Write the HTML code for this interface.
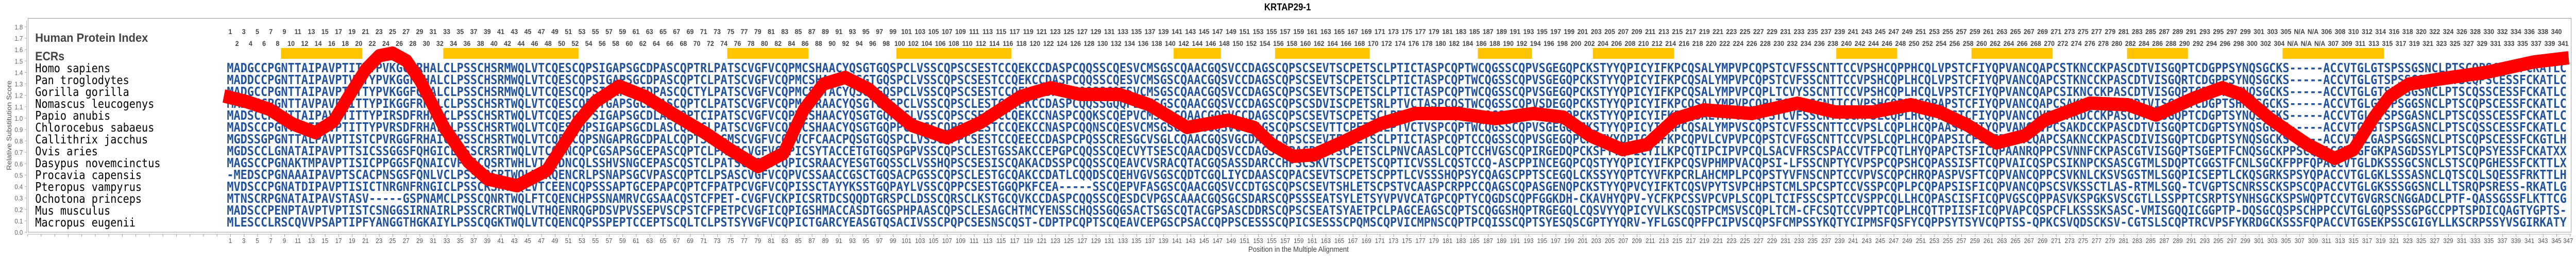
<!DOCTYPE html>
<html><head><meta charset="utf-8">
<style>
html,body{margin:0;padding:0;background:#fff;width:100%;height:500px;overflow:hidden;}
svg{display:block;width:100%;height:500px;}
.t{font-family:"Liberation Sans",sans-serif;font-weight:bold;font-size:14px;fill:#444;text-anchor:middle;}
.b{font-family:"Liberation Sans",sans-serif;font-size:13px;fill:#555;text-anchor:middle;}
.s{font-family:"DejaVu Sans Mono","Liberation Mono",monospace;font-weight:bold;font-size:24.6px;fill:#22539c;}
</style></head><body>
<svg width="100%" height="500" viewBox="0 0 5638 500" preserveAspectRatio="none" xmlns="http://www.w3.org/2000/svg">
<defs>
<pattern id="tk" x="60" y="454" width="29.6" height="5" patternUnits="userSpaceOnUse"><rect x="0" y="0" width="1" height="5" fill="#999"/></pattern>
</defs>
<text x="2818" y="20" text-anchor="middle" font-family="Liberation Sans, sans-serif" font-weight="bold" font-size="19" fill="#000">KRTAP29-1</text>
<rect x="61.5" y="35.5" width="5566" height="414.5" fill="none" stroke="#999" stroke-width="1"/>
<line x1="58" y1="40" x2="58" y2="452" stroke="#aaa" stroke-width="1"/>
<line x1="61" y1="454" x2="5628" y2="454" stroke="#aaa" stroke-width="1"/>
<rect x="60" y="454" width="5568" height="5" fill="url(#tk)"/>
<g stroke="#aaa" stroke-width="1">
<line x1="54" x2="58" y1="450" y2="450"/><line x1="54" x2="58" y1="427.9" y2="427.9"/><line x1="54" x2="58" y1="405.8" y2="405.8"/><line x1="54" x2="58" y1="383.7" y2="383.7"/><line x1="54" x2="58" y1="361.6" y2="361.6"/><line x1="54" x2="58" y1="339.4" y2="339.4"/><line x1="54" x2="58" y1="317.3" y2="317.3"/><line x1="54" x2="58" y1="295.2" y2="295.2"/><line x1="54" x2="58" y1="273.1" y2="273.1"/><line x1="54" x2="58" y1="251" y2="251"/><line x1="54" x2="58" y1="228.9" y2="228.9"/><line x1="54" x2="58" y1="206.8" y2="206.8"/><line x1="54" x2="58" y1="184.7" y2="184.7"/><line x1="54" x2="58" y1="162.6" y2="162.6"/><line x1="54" x2="58" y1="140.5" y2="140.5"/><line x1="54" x2="58" y1="118.3" y2="118.3"/><line x1="54" x2="58" y1="96.2" y2="96.2"/><line x1="54" x2="58" y1="74.1" y2="74.1"/><line x1="54" x2="58" y1="52" y2="52"/>
</g>
<g font-family="Liberation Sans, sans-serif" font-size="13" fill="#666" text-anchor="end">
<text x="50" y="455">0.0</text><text x="50" y="432.9">0.1</text><text x="50" y="410.8">0.2</text><text x="50" y="388.7">0.3</text><text x="50" y="366.6">0.4</text><text x="50" y="344.4">0.5</text><text x="50" y="322.3">0.6</text><text x="50" y="300.2">0.7</text><text x="50" y="278.1">0.8</text><text x="50" y="256">0.9</text><text x="50" y="233.9">1.0</text><text x="50" y="211.8">1.1</text><text x="50" y="189.7">1.2</text><text x="50" y="167.6">1.3</text><text x="50" y="145.5">1.4</text><text x="50" y="123.3">1.5</text><text x="50" y="101.2">1.6</text><text x="50" y="79.1">1.7</text><text x="50" y="57">1.8</text>
</g>
<text transform="translate(25,243) rotate(-90)" text-anchor="middle" font-family="Liberation Sans, sans-serif" font-size="14.5" fill="#555">Relative Substitution Score</text>
<text x="2842" y="488" text-anchor="middle" font-family="Liberation Sans, sans-serif" font-size="15" fill="#444">Position in the Multiple Alignment</text>
<text x="77" y="81" font-family="Liberation Sans, sans-serif" font-weight="bold" font-size="23" fill="#444" textLength="247" lengthAdjust="spacingAndGlyphs">Human Protein Index</text>
<text x="77" y="117" font-family="Liberation Sans, sans-serif" font-weight="bold" font-size="24" fill="#444">ECRs</text>
<g fill="#FFC400">
<rect x="615" y="93" width="177.6" height="21"/><rect x="970.2" y="93" width="296" height="21"/><rect x="1591.8" y="93" width="177.6" height="21"/><rect x="1961.8" y="93" width="251.6" height="21"/><rect x="2568.6" y="93" width="103.6" height="21"/><rect x="2790.6" y="93" width="207.2" height="21"/><rect x="3234.6" y="93" width="118.4" height="21"/><rect x="3486.2" y="93" width="177.6" height="21"/><rect x="4019" y="93" width="133.2" height="21"/><rect x="4315" y="93" width="177.6" height="21"/><rect x="4655.4" y="93" width="133.2" height="21"/><rect x="4995.8" y="93" width="222" height="21"/>
</g>

<g class="t">
<g transform="translate(0,0)"><text x="504" y="66">1</text><text x="533.6" y="66">3</text><text x="563.2" y="66">5</text><text x="592.8" y="66">7</text><text x="622.4" y="66">9</text><text x="652" y="66">11</text><text x="681.6" y="66">13</text><text x="711.2" y="66">15</text><text x="740.8" y="66">17</text><text x="770.4" y="66">19</text></g>
<g transform="translate(296,0)"><text x="504" y="66">21</text><text x="533.6" y="66">23</text><text x="563.2" y="66">25</text><text x="592.8" y="66">27</text><text x="622.4" y="66">29</text><text x="652" y="66">31</text><text x="681.6" y="66">33</text><text x="711.2" y="66">35</text><text x="740.8" y="66">37</text><text x="770.4" y="66">39</text></g>
<g transform="translate(592,0)"><text x="504" y="66">41</text><text x="533.6" y="66">43</text><text x="563.2" y="66">45</text><text x="592.8" y="66">47</text><text x="622.4" y="66">49</text><text x="652" y="66">51</text><text x="681.6" y="66">53</text><text x="711.2" y="66">55</text><text x="740.8" y="66">57</text><text x="770.4" y="66">59</text></g>
<g transform="translate(888,0)"><text x="504" y="66">61</text><text x="533.6" y="66">63</text><text x="563.2" y="66">65</text><text x="592.8" y="66">67</text><text x="622.4" y="66">69</text><text x="652" y="66">71</text><text x="681.6" y="66">73</text><text x="711.2" y="66">75</text><text x="740.8" y="66">77</text><text x="770.4" y="66">79</text></g>
<g transform="translate(1184,0)"><text x="504" y="66">81</text><text x="533.6" y="66">83</text><text x="563.2" y="66">85</text><text x="592.8" y="66">87</text><text x="622.4" y="66">89</text><text x="652" y="66">91</text><text x="681.6" y="66">93</text><text x="711.2" y="66">95</text><text x="740.8" y="66">97</text><text x="770.4" y="66">99</text></g>
<g transform="translate(1480,0)"><text x="504" y="66">101</text><text x="533.6" y="66">103</text><text x="563.2" y="66">105</text><text x="592.8" y="66">107</text><text x="622.4" y="66">109</text><text x="652" y="66">111</text><text x="681.6" y="66">113</text><text x="711.2" y="66">115</text><text x="740.8" y="66">117</text><text x="770.4" y="66">119</text></g>
<g transform="translate(1776,0)"><text x="504" y="66">121</text><text x="533.6" y="66">123</text><text x="563.2" y="66">125</text><text x="592.8" y="66">127</text><text x="622.4" y="66">129</text><text x="652" y="66">131</text><text x="681.6" y="66">133</text><text x="711.2" y="66">135</text><text x="740.8" y="66">137</text><text x="770.4" y="66">139</text></g>
<g transform="translate(2072,0)"><text x="504" y="66">141</text><text x="533.6" y="66">143</text><text x="563.2" y="66">145</text><text x="592.8" y="66">147</text><text x="622.4" y="66">149</text><text x="652" y="66">151</text><text x="681.6" y="66">153</text><text x="711.2" y="66">155</text><text x="740.8" y="66">157</text><text x="770.4" y="66">159</text></g>
<g transform="translate(2368,0)"><text x="504" y="66">161</text><text x="533.6" y="66">163</text><text x="563.2" y="66">165</text><text x="592.8" y="66">167</text><text x="622.4" y="66">169</text><text x="652" y="66">171</text><text x="681.6" y="66">173</text><text x="711.2" y="66">175</text><text x="740.8" y="66">177</text><text x="770.4" y="66">179</text></g>
<g transform="translate(2664,0)"><text x="504" y="66">181</text><text x="533.6" y="66">183</text><text x="563.2" y="66">185</text><text x="592.8" y="66">187</text><text x="622.4" y="66">189</text><text x="652" y="66">191</text><text x="681.6" y="66">193</text><text x="711.2" y="66">195</text><text x="740.8" y="66">197</text><text x="770.4" y="66">199</text></g>
<g transform="translate(2960,0)"><text x="504" y="66">201</text><text x="533.6" y="66">203</text><text x="563.2" y="66">205</text><text x="592.8" y="66">207</text><text x="622.4" y="66">209</text><text x="652" y="66">211</text><text x="681.6" y="66">213</text><text x="711.2" y="66">215</text><text x="740.8" y="66">217</text><text x="770.4" y="66">219</text></g>
<g transform="translate(3256,0)"><text x="504" y="66">221</text><text x="533.6" y="66">223</text><text x="563.2" y="66">225</text><text x="592.8" y="66">227</text><text x="622.4" y="66">229</text><text x="652" y="66">231</text><text x="681.6" y="66">233</text><text x="711.2" y="66">235</text><text x="740.8" y="66">237</text><text x="770.4" y="66">239</text></g>
<g transform="translate(3552,0)"><text x="504" y="66">241</text><text x="533.6" y="66">243</text><text x="563.2" y="66">245</text><text x="592.8" y="66">247</text><text x="622.4" y="66">249</text><text x="652" y="66">251</text><text x="681.6" y="66">253</text><text x="711.2" y="66">255</text><text x="740.8" y="66">257</text><text x="770.4" y="66">259</text></g>
<g transform="translate(3848,0)"><text x="504" y="66">261</text><text x="533.6" y="66">263</text><text x="563.2" y="66">265</text><text x="592.8" y="66">267</text><text x="622.4" y="66">269</text><text x="652" y="66">271</text><text x="681.6" y="66">273</text><text x="711.2" y="66">275</text><text x="740.8" y="66">277</text><text x="770.4" y="66">279</text></g>
<g transform="translate(4144,0)"><text x="504" y="66">281</text><text x="533.6" y="66">283</text><text x="563.2" y="66">285</text><text x="592.8" y="66">287</text><text x="622.4" y="66">289</text><text x="652" y="66">291</text><text x="681.6" y="66">293</text><text x="711.2" y="66">295</text><text x="740.8" y="66">297</text><text x="770.4" y="66">299</text></g>
<g transform="translate(4440,0)"><text x="504" y="66">301</text><text x="533.6" y="66">303</text><text x="563.2" y="66">305</text><text x="592.8" y="66">N/A</text><text x="622.4" y="66">N/A</text><text x="652" y="66">306</text><text x="681.6" y="66">308</text><text x="711.2" y="66">310</text><text x="740.8" y="66">312</text><text x="770.4" y="66">314</text></g>
<g transform="translate(4736,0)"><text x="504" y="66">316</text><text x="533.6" y="66">318</text><text x="563.2" y="66">320</text><text x="592.8" y="66">322</text><text x="622.4" y="66">324</text><text x="652" y="66">326</text><text x="681.6" y="66">328</text><text x="711.2" y="66">330</text><text x="740.8" y="66">332</text><text x="770.4" y="66">334</text></g>
<g transform="translate(5032,0)"><text x="504" y="66">336</text><text x="533.6" y="66">338</text><text x="563.2" y="66">340</text></g>
</g>

<g class="t">
<g transform="translate(0,0)"><text x="518.8" y="89">2</text><text x="548.4" y="89">4</text><text x="578" y="89">6</text><text x="607.6" y="89">8</text><text x="637.2" y="89">10</text><text x="666.8" y="89">12</text><text x="696.4" y="89">14</text><text x="726" y="89">16</text><text x="755.6" y="89">18</text><text x="785.2" y="89">20</text></g>
<g transform="translate(296,0)"><text x="518.8" y="89">22</text><text x="548.4" y="89">24</text><text x="578" y="89">26</text><text x="607.6" y="89">28</text><text x="637.2" y="89">30</text><text x="666.8" y="89">32</text><text x="696.4" y="89">34</text><text x="726" y="89">36</text><text x="755.6" y="89">38</text><text x="785.2" y="89">40</text></g>
<g transform="translate(592,0)"><text x="518.8" y="89">42</text><text x="548.4" y="89">44</text><text x="578" y="89">46</text><text x="607.6" y="89">48</text><text x="637.2" y="89">50</text><text x="666.8" y="89">52</text><text x="696.4" y="89">54</text><text x="726" y="89">56</text><text x="755.6" y="89">58</text><text x="785.2" y="89">60</text></g>
<g transform="translate(888,0)"><text x="518.8" y="89">62</text><text x="548.4" y="89">64</text><text x="578" y="89">66</text><text x="607.6" y="89">68</text><text x="637.2" y="89">70</text><text x="666.8" y="89">72</text><text x="696.4" y="89">74</text><text x="726" y="89">76</text><text x="755.6" y="89">78</text><text x="785.2" y="89">80</text></g>
<g transform="translate(1184,0)"><text x="518.8" y="89">82</text><text x="548.4" y="89">84</text><text x="578" y="89">86</text><text x="607.6" y="89">88</text><text x="637.2" y="89">90</text><text x="666.8" y="89">92</text><text x="696.4" y="89">94</text><text x="726" y="89">96</text><text x="755.6" y="89">98</text><text x="785.2" y="89">100</text></g>
<g transform="translate(1480,0)"><text x="518.8" y="89">102</text><text x="548.4" y="89">104</text><text x="578" y="89">106</text><text x="607.6" y="89">108</text><text x="637.2" y="89">110</text><text x="666.8" y="89">112</text><text x="696.4" y="89">114</text><text x="726" y="89">116</text><text x="755.6" y="89">118</text><text x="785.2" y="89">120</text></g>
<g transform="translate(1776,0)"><text x="518.8" y="89">122</text><text x="548.4" y="89">124</text><text x="578" y="89">126</text><text x="607.6" y="89">128</text><text x="637.2" y="89">130</text><text x="666.8" y="89">132</text><text x="696.4" y="89">134</text><text x="726" y="89">136</text><text x="755.6" y="89">138</text><text x="785.2" y="89">140</text></g>
<g transform="translate(2072,0)"><text x="518.8" y="89">142</text><text x="548.4" y="89">144</text><text x="578" y="89">146</text><text x="607.6" y="89">148</text><text x="637.2" y="89">150</text><text x="666.8" y="89">152</text><text x="696.4" y="89">154</text><text x="726" y="89">156</text><text x="755.6" y="89">158</text><text x="785.2" y="89">160</text></g>
<g transform="translate(2368,0)"><text x="518.8" y="89">162</text><text x="548.4" y="89">164</text><text x="578" y="89">166</text><text x="607.6" y="89">168</text><text x="637.2" y="89">170</text><text x="666.8" y="89">172</text><text x="696.4" y="89">174</text><text x="726" y="89">176</text><text x="755.6" y="89">178</text><text x="785.2" y="89">180</text></g>
<g transform="translate(2664,0)"><text x="518.8" y="89">182</text><text x="548.4" y="89">184</text><text x="578" y="89">186</text><text x="607.6" y="89">188</text><text x="637.2" y="89">190</text><text x="666.8" y="89">192</text><text x="696.4" y="89">194</text><text x="726" y="89">196</text><text x="755.6" y="89">198</text><text x="785.2" y="89">200</text></g>
<g transform="translate(2960,0)"><text x="518.8" y="89">202</text><text x="548.4" y="89">204</text><text x="578" y="89">206</text><text x="607.6" y="89">208</text><text x="637.2" y="89">210</text><text x="666.8" y="89">212</text><text x="696.4" y="89">214</text><text x="726" y="89">216</text><text x="755.6" y="89">218</text><text x="785.2" y="89">220</text></g>
<g transform="translate(3256,0)"><text x="518.8" y="89">222</text><text x="548.4" y="89">224</text><text x="578" y="89">226</text><text x="607.6" y="89">228</text><text x="637.2" y="89">230</text><text x="666.8" y="89">232</text><text x="696.4" y="89">234</text><text x="726" y="89">236</text><text x="755.6" y="89">238</text><text x="785.2" y="89">240</text></g>
<g transform="translate(3552,0)"><text x="518.8" y="89">242</text><text x="548.4" y="89">244</text><text x="578" y="89">246</text><text x="607.6" y="89">248</text><text x="637.2" y="89">250</text><text x="666.8" y="89">252</text><text x="696.4" y="89">254</text><text x="726" y="89">256</text><text x="755.6" y="89">258</text><text x="785.2" y="89">260</text></g>
<g transform="translate(3848,0)"><text x="518.8" y="89">262</text><text x="548.4" y="89">264</text><text x="578" y="89">266</text><text x="607.6" y="89">268</text><text x="637.2" y="89">270</text><text x="666.8" y="89">272</text><text x="696.4" y="89">274</text><text x="726" y="89">276</text><text x="755.6" y="89">278</text><text x="785.2" y="89">280</text></g>
<g transform="translate(4144,0)"><text x="518.8" y="89">282</text><text x="548.4" y="89">284</text><text x="578" y="89">286</text><text x="607.6" y="89">288</text><text x="637.2" y="89">290</text><text x="666.8" y="89">292</text><text x="696.4" y="89">294</text><text x="726" y="89">296</text><text x="755.6" y="89">298</text><text x="785.2" y="89">300</text></g>
<g transform="translate(4440,0)"><text x="518.8" y="89">302</text><text x="548.4" y="89">304</text><text x="578" y="89">N/A</text><text x="607.6" y="89">N/A</text><text x="637.2" y="89">N/A</text><text x="666.8" y="89">307</text><text x="696.4" y="89">309</text><text x="726" y="89">311</text><text x="755.6" y="89">313</text><text x="785.2" y="89">315</text></g>
<g transform="translate(4736,0)"><text x="518.8" y="89">317</text><text x="548.4" y="89">319</text><text x="578" y="89">321</text><text x="607.6" y="89">323</text><text x="637.2" y="89">325</text><text x="666.8" y="89">327</text><text x="696.4" y="89">329</text><text x="726" y="89">331</text><text x="755.6" y="89">333</text><text x="785.2" y="89">335</text></g>
<g transform="translate(5032,0)"><text x="518.8" y="89">337</text><text x="548.4" y="89">339</text><text x="578" y="89">341</text></g>
</g>

<g class="b">
<g transform="translate(0,0)"><text x="504" y="471">1</text><text x="533.6" y="471">3</text><text x="563.2" y="471">5</text><text x="592.8" y="471">7</text><text x="622.4" y="471">9</text><text x="652" y="471">11</text><text x="681.6" y="471">13</text><text x="711.2" y="471">15</text><text x="740.8" y="471">17</text><text x="770.4" y="471">19</text></g>
<g transform="translate(296,0)"><text x="504" y="471">21</text><text x="533.6" y="471">23</text><text x="563.2" y="471">25</text><text x="592.8" y="471">27</text><text x="622.4" y="471">29</text><text x="652" y="471">31</text><text x="681.6" y="471">33</text><text x="711.2" y="471">35</text><text x="740.8" y="471">37</text><text x="770.4" y="471">39</text></g>
<g transform="translate(592,0)"><text x="504" y="471">41</text><text x="533.6" y="471">43</text><text x="563.2" y="471">45</text><text x="592.8" y="471">47</text><text x="622.4" y="471">49</text><text x="652" y="471">51</text><text x="681.6" y="471">53</text><text x="711.2" y="471">55</text><text x="740.8" y="471">57</text><text x="770.4" y="471">59</text></g>
<g transform="translate(888,0)"><text x="504" y="471">61</text><text x="533.6" y="471">63</text><text x="563.2" y="471">65</text><text x="592.8" y="471">67</text><text x="622.4" y="471">69</text><text x="652" y="471">71</text><text x="681.6" y="471">73</text><text x="711.2" y="471">75</text><text x="740.8" y="471">77</text><text x="770.4" y="471">79</text></g>
<g transform="translate(1184,0)"><text x="504" y="471">81</text><text x="533.6" y="471">83</text><text x="563.2" y="471">85</text><text x="592.8" y="471">87</text><text x="622.4" y="471">89</text><text x="652" y="471">91</text><text x="681.6" y="471">93</text><text x="711.2" y="471">95</text><text x="740.8" y="471">97</text><text x="770.4" y="471">99</text></g>
<g transform="translate(1480,0)"><text x="504" y="471">101</text><text x="533.6" y="471">103</text><text x="563.2" y="471">105</text><text x="592.8" y="471">107</text><text x="622.4" y="471">109</text><text x="652" y="471">111</text><text x="681.6" y="471">113</text><text x="711.2" y="471">115</text><text x="740.8" y="471">117</text><text x="770.4" y="471">119</text></g>
<g transform="translate(1776,0)"><text x="504" y="471">121</text><text x="533.6" y="471">123</text><text x="563.2" y="471">125</text><text x="592.8" y="471">127</text><text x="622.4" y="471">129</text><text x="652" y="471">131</text><text x="681.6" y="471">133</text><text x="711.2" y="471">135</text><text x="740.8" y="471">137</text><text x="770.4" y="471">139</text></g>
<g transform="translate(2072,0)"><text x="504" y="471">141</text><text x="533.6" y="471">143</text><text x="563.2" y="471">145</text><text x="592.8" y="471">147</text><text x="622.4" y="471">149</text><text x="652" y="471">151</text><text x="681.6" y="471">153</text><text x="711.2" y="471">155</text><text x="740.8" y="471">157</text><text x="770.4" y="471">159</text></g>
<g transform="translate(2368,0)"><text x="504" y="471">161</text><text x="533.6" y="471">163</text><text x="563.2" y="471">165</text><text x="592.8" y="471">167</text><text x="622.4" y="471">169</text><text x="652" y="471">171</text><text x="681.6" y="471">173</text><text x="711.2" y="471">175</text><text x="740.8" y="471">177</text><text x="770.4" y="471">179</text></g>
<g transform="translate(2664,0)"><text x="504" y="471">181</text><text x="533.6" y="471">183</text><text x="563.2" y="471">185</text><text x="592.8" y="471">187</text><text x="622.4" y="471">189</text><text x="652" y="471">191</text><text x="681.6" y="471">193</text><text x="711.2" y="471">195</text><text x="740.8" y="471">197</text><text x="770.4" y="471">199</text></g>
<g transform="translate(2960,0)"><text x="504" y="471">201</text><text x="533.6" y="471">203</text><text x="563.2" y="471">205</text><text x="592.8" y="471">207</text><text x="622.4" y="471">209</text><text x="652" y="471">211</text><text x="681.6" y="471">213</text><text x="711.2" y="471">215</text><text x="740.8" y="471">217</text><text x="770.4" y="471">219</text></g>
<g transform="translate(3256,0)"><text x="504" y="471">221</text><text x="533.6" y="471">223</text><text x="563.2" y="471">225</text><text x="592.8" y="471">227</text><text x="622.4" y="471">229</text><text x="652" y="471">231</text><text x="681.6" y="471">233</text><text x="711.2" y="471">235</text><text x="740.8" y="471">237</text><text x="770.4" y="471">239</text></g>
<g transform="translate(3552,0)"><text x="504" y="471">241</text><text x="533.6" y="471">243</text><text x="563.2" y="471">245</text><text x="592.8" y="471">247</text><text x="622.4" y="471">249</text><text x="652" y="471">251</text><text x="681.6" y="471">253</text><text x="711.2" y="471">255</text><text x="740.8" y="471">257</text><text x="770.4" y="471">259</text></g>
<g transform="translate(3848,0)"><text x="504" y="471">261</text><text x="533.6" y="471">263</text><text x="563.2" y="471">265</text><text x="592.8" y="471">267</text><text x="622.4" y="471">269</text><text x="652" y="471">271</text><text x="681.6" y="471">273</text><text x="711.2" y="471">275</text><text x="740.8" y="471">277</text><text x="770.4" y="471">279</text></g>
<g transform="translate(4144,0)"><text x="504" y="471">281</text><text x="533.6" y="471">283</text><text x="563.2" y="471">285</text><text x="592.8" y="471">287</text><text x="622.4" y="471">289</text><text x="652" y="471">291</text><text x="681.6" y="471">293</text><text x="711.2" y="471">295</text><text x="740.8" y="471">297</text><text x="770.4" y="471">299</text></g>
<g transform="translate(4440,0)"><text x="504" y="471">301</text><text x="533.6" y="471">303</text><text x="563.2" y="471">305</text><text x="592.8" y="471">307</text><text x="622.4" y="471">309</text><text x="652" y="471">311</text><text x="681.6" y="471">313</text><text x="711.2" y="471">315</text><text x="740.8" y="471">317</text><text x="770.4" y="471">319</text></g>
<g transform="translate(4736,0)"><text x="504" y="471">321</text><text x="533.6" y="471">323</text><text x="563.2" y="471">325</text><text x="592.8" y="471">327</text><text x="622.4" y="471">329</text><text x="652" y="471">331</text><text x="681.6" y="471">333</text><text x="711.2" y="471">335</text><text x="740.8" y="471">337</text><text x="770.4" y="471">339</text></g>
<g transform="translate(5032,0)"><text x="504" y="471">341</text><text x="533.6" y="471">343</text><text x="563.2" y="471">345</text><text x="588.8" y="471">347</text></g>
</g>

<g font-family="DejaVu Sans Mono, Liberation Mono, monospace" font-size="22.8" fill="#000">
<text x="77" y="140">Homo sapiens</text><text x="77" y="163">Pan troglodytes</text><text x="77" y="186">Gorilla gorilla</text><text x="77" y="209">Nomascus leucogenys</text><text x="77" y="232">Papio anubis</text><text x="77" y="255">Chlorocebus sabaeus</text><text x="77" y="278">Callithrix jacchus</text><text x="77" y="301">Ovis aries</text><text x="77" y="324">Dasypus novemcinctus</text><text x="77" y="347">Procavia capensis</text><text x="77" y="370">Pteropus vampyrus</text><text x="77" y="393">Ochotona princeps</text><text x="77" y="416">Mus musculus</text><text x="77" y="439">Macropus eugenii</text>
</g>

<g class="s">
<g transform="translate(0,0)">
<text x="496.6" y="140" textLength="88.8" lengthAdjust="spacingAndGlyphs">MADGCC</text><text x="585.4" y="140" textLength="666" lengthAdjust="spacingAndGlyphs">PGNTTAIPAVPTITTYPVKGGFRHALCLPSSCHSRMWQLVTCQES</text><text x="1251.4" y="140" textLength="666" lengthAdjust="spacingAndGlyphs">CQPSIGAPSGCDPASCQPTRLPATSCVGFVCQPMCSHAACYQSGT</text><text x="1917.4" y="140" textLength="680.8" lengthAdjust="spacingAndGlyphs">GQSPCLVSSCQPSCSESTCCQEKCCDASPCQQSSCQESVCMSGSCQ</text><text x="2598.2" y="140" textLength="592" lengthAdjust="spacingAndGlyphs">AACGQSVCCDAGSCQPSCSEVTSCPETSCLPTICTASPCQ</text><text x="3190.2" y="140" textLength="636.4" lengthAdjust="spacingAndGlyphs">PTWCQGSSCQPVSGEGQPCKSTYYQPICYIFKPCQSALYMPVP</text><text x="3826.6" y="140" textLength="636.4" lengthAdjust="spacingAndGlyphs">CQPSTCVFSSCNTTCCVPSHCQPPHCQLVPSTCFIYQPVANCQ</text><text x="4463" y="140" textLength="636.4" lengthAdjust="spacingAndGlyphs">APCSTKNCCKPASCDTVISGQPTCDGPPSYNQSGCKS-----A</text><text x="5099.4" y="140" textLength="518" lengthAdjust="spacingAndGlyphs">CCVTGLGTSPSSGSNCLPTSCQPSCESSFCKATLC</text>
</g>
<g transform="translate(0,23)">
<text x="496.6" y="140" textLength="88.8" lengthAdjust="spacingAndGlyphs">MADDCC</text><text x="585.4" y="140" textLength="666" lengthAdjust="spacingAndGlyphs">PGNTTAIPAVPTVTTYPVKGGFRHALCLPSSCHSRMWQLVTCQES</text><text x="1251.4" y="140" textLength="666" lengthAdjust="spacingAndGlyphs">CQPSIGAPSGCDPASCQPTCLPATSCVGFVCQPMCSHAACYQSGT</text><text x="1917.4" y="140" textLength="680.8" lengthAdjust="spacingAndGlyphs">GQSPCLVSSCQPSCSESTCCQEKCCDASPCQQSSCQESVCMSGSCQ</text><text x="2598.2" y="140" textLength="592" lengthAdjust="spacingAndGlyphs">AACGQSVCCDAGSCQPSCSEVTSCPETSCLPTICTASPCQ</text><text x="3190.2" y="140" textLength="636.4" lengthAdjust="spacingAndGlyphs">PTWCQGSSCQPVSGEGQPCKSTYYQPICYIFKPCQSALYMPVP</text><text x="3826.6" y="140" textLength="636.4" lengthAdjust="spacingAndGlyphs">CQPSTCVFSSCNTTCCVPSHCQPLHCQLVPSTCFIYQPVANCQ</text><text x="4463" y="140" textLength="636.4" lengthAdjust="spacingAndGlyphs">APCSTKNCCKPASCDTVISGQRTCDGPPSYNQSGCKS-----A</text><text x="5099.4" y="140" textLength="518" lengthAdjust="spacingAndGlyphs">CCVTGLGTSPSSGSNCLPTSCQPSCESSFCKATLC</text>
</g>
<g transform="translate(0,46)">
<text x="496.6" y="140" textLength="88.8" lengthAdjust="spacingAndGlyphs">MADGCC</text><text x="585.4" y="140" textLength="666" lengthAdjust="spacingAndGlyphs">PGNTTAIPAVPTITTYPVKGGFQHALCLPSSCHSRMWQLVTCQES</text><text x="1251.4" y="140" textLength="666" lengthAdjust="spacingAndGlyphs">CQPSIGAPSGCDPASCQCTYLPATSCVGFVCQPMCSHTACYQSGT</text><text x="1917.4" y="140" textLength="680.8" lengthAdjust="spacingAndGlyphs">GQSPCLVSSCQPSCSESTCCQEKCCDASSCQQSSCQESVCMSGSCQ</text><text x="2598.2" y="140" textLength="592" lengthAdjust="spacingAndGlyphs">AACGQSVCCDAGSCQPSCSEVTSCPETSCLPTICTASPCQ</text><text x="3190.2" y="140" textLength="636.4" lengthAdjust="spacingAndGlyphs">PTWCQGSSCQPVSGEGQPCKSTYYQPICYIFKPCQSALYMPVP</text><text x="3826.6" y="140" textLength="636.4" lengthAdjust="spacingAndGlyphs">CQPLTCVYSSCNTTCCVPSHCQPLHCQLVPSTCFIYQPVANCQ</text><text x="4463" y="140" textLength="636.4" lengthAdjust="spacingAndGlyphs">APCSIKNCCKPASCDTVISGQPTCDGPPSYNQSGCKS-----A</text><text x="5099.4" y="140" textLength="518" lengthAdjust="spacingAndGlyphs">CCVTGLGTSPSSGSNCLPTSCQSSCESSFCKATLC</text>
</g>
<g transform="translate(0,69)">
<text x="496.6" y="140" textLength="88.8" lengthAdjust="spacingAndGlyphs">MADSCC</text><text x="585.4" y="140" textLength="666" lengthAdjust="spacingAndGlyphs">PGNTTAVPAVPTITTYPIKGGFRHALCLPSSCHSRTWQLVTCQES</text><text x="1251.4" y="140" textLength="666" lengthAdjust="spacingAndGlyphs">CQPSTGAPSGCDPASCQPTCLPATSCVGFVCQPMCSRAACYQSGT</text><text x="1917.4" y="140" textLength="680.8" lengthAdjust="spacingAndGlyphs">GQSPCLVSSCQPSCLESTCCQEKCCDASPCQQSSGQQPICMSGSCQ</text><text x="2598.2" y="140" textLength="592" lengthAdjust="spacingAndGlyphs">AACGQSVCCDAGSCQPSCSDVISCPETSRLPTVCTASPCQ</text><text x="3190.2" y="140" textLength="636.4" lengthAdjust="spacingAndGlyphs">STWCQGSSCQPVSDEGQPCKSTYYQPICYIFKPCQSALYMPVP</text><text x="3826.6" y="140" textLength="636.4" lengthAdjust="spacingAndGlyphs">CQPLTCVFSSCNTTCCVPSHCQPLHCQPAPSTCFIYQPVANCQ</text><text x="4463" y="140" textLength="636.4" lengthAdjust="spacingAndGlyphs">APCSAKNCCKPASCDTVISGQPTCDGPTSHNQSGCKS-----A</text><text x="5099.4" y="140" textLength="518" lengthAdjust="spacingAndGlyphs">CCVTGLGTSPSGGSNCLPTSCQPSCESSFCKATLC</text>
</g>
<g transform="translate(0,92)">
<text x="496.6" y="140" textLength="88.8" lengthAdjust="spacingAndGlyphs">MADSCC</text><text x="585.4" y="140" textLength="666" lengthAdjust="spacingAndGlyphs">PGNTTAIPAVPTITTYPIRSDFRHALCLPSSCHSRTWQLVTCQES</text><text x="1251.4" y="140" textLength="666" lengthAdjust="spacingAndGlyphs">CQPSIGAPSGCDLASCQPTCIPATSCVGFVCQPMCSHAACYQSGT</text><text x="1917.4" y="140" textLength="680.8" lengthAdjust="spacingAndGlyphs">GQPPCLVSSCQPSCSESTCCQEKCCNASPCQQKSCQEPVCMSGSCQ</text><text x="2598.2" y="140" textLength="592" lengthAdjust="spacingAndGlyphs">AACGQSVCCDAGSCQPSCSEVTSCPETSCLPTVCTVSPCQ</text><text x="3190.2" y="140" textLength="636.4" lengthAdjust="spacingAndGlyphs">STWCQGSSCQPISGEGQPCKSTYYQPICYIFKPCQSALYMPVS</text><text x="3826.6" y="140" textLength="636.4" lengthAdjust="spacingAndGlyphs">CQPSTCVFSSCNTTCCMPSLCQPLHCQPAASTCFIYQPVANCQ</text><text x="4463" y="140" textLength="636.4" lengthAdjust="spacingAndGlyphs">VPCSAKDCCKPASCDTVISGQPTCDGPTSYNQSGCKS-----A</text><text x="5099.4" y="140" textLength="518" lengthAdjust="spacingAndGlyphs">CCVTGLGTSPSGASNCLPTSCQSSCESSFCKATLC</text>
</g>
<g transform="translate(0,115)">
<text x="496.6" y="140" textLength="88.8" lengthAdjust="spacingAndGlyphs">MADSCC</text><text x="585.4" y="140" textLength="666" lengthAdjust="spacingAndGlyphs">PGNTTAIPAVPTITTYPVRSDFRHALCLPSSCHSRTWQLVTCQES</text><text x="1251.4" y="140" textLength="666" lengthAdjust="spacingAndGlyphs">CQPSIGAPSGCDLASCQPTCLPATSCVGFVCQPVCSHAACYQSGT</text><text x="1917.4" y="140" textLength="680.8" lengthAdjust="spacingAndGlyphs">GQPPCLVSSCQPSRSESTCCQEKCCNASPCQQNSCQESVCMSGSCQ</text><text x="2598.2" y="140" textLength="592" lengthAdjust="spacingAndGlyphs">AACGQSVCCDAGSCQPSCSEVTTCPETSCLPTVCTVSPCQ</text><text x="3190.2" y="140" textLength="636.4" lengthAdjust="spacingAndGlyphs">PTWCQGSSCQPVSGEGQPCKSTYYQPICYIFKPCQSALYMPVS</text><text x="3826.6" y="140" textLength="636.4" lengthAdjust="spacingAndGlyphs">CQPSTCVFSSCNTTCCVPSLCQPLHCQPAASTCFIYQPVANCQ</text><text x="4463" y="140" textLength="636.4" lengthAdjust="spacingAndGlyphs">VPCSAKDCCKPASCDTVISGQPTCDGPTSYNQSGCKS-----A</text><text x="5099.4" y="140" textLength="518" lengthAdjust="spacingAndGlyphs">CCVTGLGTSPSGASNCLPTSCQSSCESSFCKATLC</text>
</g>
<g transform="translate(0,138)">
<text x="496.6" y="140" textLength="88.8" lengthAdjust="spacingAndGlyphs">MGDSSG</text><text x="585.4" y="140" textLength="666" lengthAdjust="spacingAndGlyphs">PGNTTALPAVPTISTCPVRGGFRHAICLPSSCHSRTWQLVTCQES</text><text x="1251.4" y="140" textLength="666" lengthAdjust="spacingAndGlyphs">CQPSNGAPRGCDPALCQPTSLPGMSCVGFVCQPVCFCAACPQSGT</text><text x="1917.4" y="140" textLength="680.8" lengthAdjust="spacingAndGlyphs">GQSPCLVSSCQPPCSESTCCQEECCDASPCPQSSCRESGCVSGLCQ</text><text x="2598.2" y="140" textLength="592" lengthAdjust="spacingAndGlyphs">AACGQSVGCDAGSCQPSCSEVTFCPETSCLPTICTASPCQ</text><text x="3190.2" y="140" textLength="636.4" lengthAdjust="spacingAndGlyphs">PTCCQGSSCQPVSGEGQPCKSTYYQPICCIFKPCQPVLCVPVP</text><text x="3826.6" y="140" textLength="636.4" lengthAdjust="spacingAndGlyphs">CQPSTCVFGSCNTTCCVPSLCQPLHCQPAPSICFIYEPVANCQ</text><text x="4463" y="140" textLength="636.4" lengthAdjust="spacingAndGlyphs">APCSAKNCCKPASCDIVISGQPTCDGPTSYNQSGCKS-----A</text><text x="5099.4" y="140" textLength="518" lengthAdjust="spacingAndGlyphs">CCVTGLGASPSGGSNCLPTSCQPSCESSFCKGTLH</text>
</g>
<g transform="translate(0,161)">
<text x="496.6" y="140" textLength="88.8" lengthAdjust="spacingAndGlyphs">MGDSCC</text><text x="585.4" y="140" textLength="666" lengthAdjust="spacingAndGlyphs">LGNATAIPAVPTTSICSSGGSFQHGICLPSSCRSRTWQLVTCQEN</text><text x="1251.4" y="140" textLength="666" lengthAdjust="spacingAndGlyphs">CQPCGSAPSGCEPASCQPTCLPATSCVGFVCQPICSYTACCETGT</text><text x="1917.4" y="140" textLength="680.8" lengthAdjust="spacingAndGlyphs">GQSPGPVSSCQPSCLESTGSSAKCCEPGPCQQSSCQECVYTSESCQ</text><text x="2598.2" y="140" textLength="592" lengthAdjust="spacingAndGlyphs">AACDQSVCCDAGSCQPACPEVTSCPETSCLPNVCAASLCQ</text><text x="3190.2" y="140" textLength="636.4" lengthAdjust="spacingAndGlyphs">PTCCHVGSCQPIRGEDQPCKSFYYQPICYILKPCQTIPCIPVP</text><text x="3826.6" y="140" textLength="636.4" lengthAdjust="spacingAndGlyphs">CQLSACVFRSCSPACCVTFPCQTLHYQPAPCTSFICQPAANRQ</text><text x="4463" y="140" textLength="636.4" lengthAdjust="spacingAndGlyphs">PPCSVNNFCKPASCGTVISGQPTSGEPTFCNQSGCKPPSCQPA</text><text x="5099.4" y="140" textLength="518" lengthAdjust="spacingAndGlyphs">CCVTGFGKPASGDSSYLPTSCQPSYESSFCKATXX</text>
</g>
<g transform="translate(0,184)">
<text x="496.6" y="140" textLength="88.8" lengthAdjust="spacingAndGlyphs">MAGSCC</text><text x="585.4" y="140" textLength="666" lengthAdjust="spacingAndGlyphs">PGNAKTMPAVPTISICPPGGSFQNAICVPSSCQSRTWHLVTCQDN</text><text x="1251.4" y="140" textLength="666" lengthAdjust="spacingAndGlyphs">CQLSSHVSNGCEPASCQSTCLPATSCVGLVCQPICSRAACYESGT</text><text x="1917.4" y="140" textLength="680.8" lengthAdjust="spacingAndGlyphs">GQSSCLVSSHQPSCSESISCQAKACDSSPCQQSSCQEAVCVSRACQ</text><text x="2598.2" y="140" textLength="592" lengthAdjust="spacingAndGlyphs">TACGQSASSDARCCHPSCSKVTSCPETSCQPTICVSSLCQ</text><text x="3190.2" y="140" textLength="636.4" lengthAdjust="spacingAndGlyphs">STCCQ-ASCPPINCEGQPCQSTYYQPICYIFKPCQSVPHMPVA</text><text x="3826.6" y="140" textLength="636.4" lengthAdjust="spacingAndGlyphs">CQPSI-LFSSCNPTYCVPSPCQPSHCQPASSISFTCQPVAICQ</text><text x="4463" y="140" textLength="636.4" lengthAdjust="spacingAndGlyphs">SPCSIKNPCKSASCGTMLSDQPTCGGSTFCNLSGCKFPPFQPA</text><text x="5099.4" y="140" textLength="518" lengthAdjust="spacingAndGlyphs">CCVTGLDKSSSGCSNCLSTSCQPGHESSFCKTTLX</text>
</g>
<g transform="translate(0,207)">
<text x="496.6" y="140" textLength="88.8" lengthAdjust="spacingAndGlyphs">-MEDSC</text><text x="585.4" y="140" textLength="666" lengthAdjust="spacingAndGlyphs">PGNAAAIPAVPTSCACPNSGSFQNLVCLPSSCQSRTWQLVTRQEN</text><text x="1251.4" y="140" textLength="666" lengthAdjust="spacingAndGlyphs">CRLPSNAPSGCVPASCQPTCLPSASCVGFVCQPVCSSAACCGSCT</text><text x="1917.4" y="140" textLength="680.8" lengthAdjust="spacingAndGlyphs">GQSACPGSSCQPSCLESTGCQAKCCDATLCQQDSCQEHVGVSGSCQ</text><text x="2598.2" y="140" textLength="592" lengthAdjust="spacingAndGlyphs">DTCGQLIYCDAASCQPACSEVTSCPETSCPPTLCVSSSHQ</text><text x="3190.2" y="140" textLength="636.4" lengthAdjust="spacingAndGlyphs">PSYCQAGSCPPTSCEGQLCKSSYYQPTCYVFKPCRLAHCMPLP</text><text x="3826.6" y="140" textLength="636.4" lengthAdjust="spacingAndGlyphs">CQPSTYVFNSCNPTCCVPVSCQPCHRQPASPVSFTCQPVANCQ</text><text x="4463" y="140" textLength="636.4" lengthAdjust="spacingAndGlyphs">PPCSVKNLCKSVSGSTMLSGQPICSEPTLCKQSGRKSPSYQPA</text><text x="5099.4" y="140" textLength="518" lengthAdjust="spacingAndGlyphs">CCVTGLGKLSSSASNCLQTSCQLSQESSFRKTTLH</text>
</g>
<g transform="translate(0,230)">
<text x="496.6" y="140" textLength="88.8" lengthAdjust="spacingAndGlyphs">MVDSCC</text><text x="585.4" y="140" textLength="666" lengthAdjust="spacingAndGlyphs">PGNATDIPAVPTISICTNRGNFRNGICLPSSCRSRTWQLVTCEEN</text><text x="1251.4" y="140" textLength="666" lengthAdjust="spacingAndGlyphs">CQPSSSAPTGCEPAPCQPTCFPATPCVGFVCQPISSCTAYYKSST</text><text x="1917.4" y="140" textLength="680.8" lengthAdjust="spacingAndGlyphs">GQPAYLVSSCQPPCSESTGGQPKFCEA-----SSCQEPVFASGSCQ</text><text x="2598.2" y="140" textLength="592" lengthAdjust="spacingAndGlyphs">AACGQSVCCDTGSCQPSCSEVTSHLETSCPSTVCAASPCR</text><text x="3190.2" y="140" textLength="636.4" lengthAdjust="spacingAndGlyphs">PPCCQAGSCQPASGENQPCKSTYYQPVCYIFKTCQSVPYTSVP</text><text x="3826.6" y="140" textLength="636.4" lengthAdjust="spacingAndGlyphs">CHPSTCMLSPCSPTCCVSSPCQPLPCQPAPSISFICQPVANCQ</text><text x="4463" y="140" textLength="636.4" lengthAdjust="spacingAndGlyphs">PSCSVKSSCTLAS-RTMLSGQ-TCVGPTSCNRSSCKSPSCQPA</text><text x="5099.4" y="140" textLength="518" lengthAdjust="spacingAndGlyphs">CCVTGLGKSSSGGSNCLLTSRQPSRESS-RKATLG</text>
</g>
<g transform="translate(0,253)">
<text x="496.6" y="140" textLength="88.8" lengthAdjust="spacingAndGlyphs">MTNSCR</text><text x="585.4" y="140" textLength="666" lengthAdjust="spacingAndGlyphs">PGNATAIPAVSTASV-----GSPNAMCLPSSCQNRTWQLFTCQEN</text><text x="1251.4" y="140" textLength="666" lengthAdjust="spacingAndGlyphs">CHPSSNAMRVCGSAACQSTCFPET-CVGFVCKPICSRTDCSQQDT</text><text x="1917.4" y="140" textLength="680.8" lengthAdjust="spacingAndGlyphs">GRSPCLDSSCQRSCLKSTGCQVKCCDASPCQQSSCQESDCVPGSCA</text><text x="2598.2" y="140" textLength="592" lengthAdjust="spacingAndGlyphs">AACGQSGCSDARSCQPSSSEATSYLETSYVPVVCATGPCQ</text><text x="3190.2" y="140" textLength="636.4" lengthAdjust="spacingAndGlyphs">PTYCQGDSCQPFGGKDH-CKAVHYQPV-YCFKPCSSVPCVPLS</text><text x="3826.6" y="140" textLength="636.4" lengthAdjust="spacingAndGlyphs">CQPLTCIFSSCSPTCCVSPPCQLLHCQPASCISFICQPVGSCQ</text><text x="4463" y="140" textLength="636.4" lengthAdjust="spacingAndGlyphs">PPASVKSPGKSVSCGTLLSSPPTCSRPTSYNHSGCKSPSWQPT</text><text x="5099.4" y="140" textLength="518" lengthAdjust="spacingAndGlyphs">CCVTGVGRSCNGGADCLPTF-QASSGSSFLKTTCG</text>
</g>
<g transform="translate(0,276)">
<text x="496.6" y="140" textLength="88.8" lengthAdjust="spacingAndGlyphs">MADSCC</text><text x="585.4" y="140" textLength="666" lengthAdjust="spacingAndGlyphs">PENPTAVPTVPTISTCSNGGSIRNAIRLPSSCRCRTWQLVTHQEN</text><text x="1251.4" y="140" textLength="666" lengthAdjust="spacingAndGlyphs">RQGPDSVPVSSEPVSCPSTCFPETPCVGFICQPIGSHMACCASDT</text><text x="1917.4" y="140" textLength="680.8" lengthAdjust="spacingAndGlyphs">GGSPHPAASCQPSCLESAGCHTMCYENSSCHQSSGQGSACTSGSCQ</text><text x="2598.2" y="140" textLength="592" lengthAdjust="spacingAndGlyphs">TACGPSASCDDRSCQPSCSEATSYAETPCLPAGCEAGSCQ</text><text x="3190.2" y="140" textLength="636.4" lengthAdjust="spacingAndGlyphs">PTSCQGGSHQPTRGEGQLCQSVYYQPICYVLKSCQSTPCMSVS</text><text x="3826.6" y="140" textLength="636.4" lengthAdjust="spacingAndGlyphs">CQPLTCM-CFCSQTCCVPPTCQPLHCQTTPIISFICQPVAPCQ</text><text x="4463" y="140" textLength="636.4" lengthAdjust="spacingAndGlyphs">SPCFLKSSSKSASC-VMISGQQICGGPTP-DQSGCQSPSCHPP</text><text x="5099.4" y="140" textLength="518" lengthAdjust="spacingAndGlyphs">CCVTGLGQPSSSGPGCCPPTSPDICQAGTYGPTS-</text>
</g>
<g transform="translate(0,299)">
<text x="496.6" y="140" textLength="88.8" lengthAdjust="spacingAndGlyphs">MLESCC</text><text x="585.4" y="140" textLength="666" lengthAdjust="spacingAndGlyphs">LRSCQVVPSAPTIPFYANGGTHGKAIYLPSSCQGKTWQLVTCQEN</text><text x="1251.4" y="140" textLength="666" lengthAdjust="spacingAndGlyphs">CQPSSPEPTCCEPTSCQLTCLPSTSYVGFVCQPICTGARCYEASG</text><text x="1917.4" y="140" textLength="680.8" lengthAdjust="spacingAndGlyphs">TQSACIVSSCPQPCSESNSCQST-CDPTPCQPTSCQEAVCEPGSCP</text><text x="2598.2" y="140" textLength="592" lengthAdjust="spacingAndGlyphs">SACCQPPSCESSSCQPICSESSSCPQMSCQPVICMPNSCQ</text><text x="3190.2" y="140" textLength="636.4" lengthAdjust="spacingAndGlyphs">PTPCQISSCQPTSYESQSCGPTYYQRV-YFLGSCQPFPCIPVS</text><text x="3826.6" y="140" textLength="636.4" lengthAdjust="spacingAndGlyphs">CQPSFCMPSSYKQTYCIPMSFQSFYCQPPSYTSYVCQPTSS-Q</text><text x="4463" y="140" textLength="636.4" lengthAdjust="spacingAndGlyphs">PKCSVQDSCKSV-CGTSLSCQPTRCVPSFYKRDGCKSSSFQPA</text><text x="5099.4" y="140" textLength="518" lengthAdjust="spacingAndGlyphs">CCVTGSEKPSSCGIGYLLKSCRPSSYVSGIRKATY</text>
</g>
</g>
<polyline fill="none" stroke="#ff0000" stroke-width="26" stroke-linejoin="round" stroke-linecap="butt" points="490,186 540,197 590,212 640,240 690,257 730,235 763,187 800,135 830,108 859,103 890,118 920,157 972,247 1024,313 1067,347 1132,360 1197,330 1266,235 1303,197 1355,167 1412,187 1477,223 1542,257 1598,290 1659,323 1715,297 1759,213 1802,163 1850,150 1902,173 1940,203 1995,243 2073,267 2147,237 2234,187 2299,170 2364,183 2450,183 2515,203 2598,247 2688,233 2745,247 2784,280 2830,303 2876,300 2944,273 3021,240 3097,220 3190,220 3273,230 3356,220 3422,227 3480,263 3551,290 3605,280 3667,230 3729,213 3834,220 3934,200 4017,217 4099,217 4182,203 4245,217 4307,243 4369,277 4431,263 4475,233 4574,200 4657,203 4719,223 4802,190 4864,170 4905,183 4968,230 5050,280 5110,307 5151,290 5196,227 5230,187 5272,163 5340,153 5443,140 5546,120 5622,112"/>
</svg>
</body></html>
